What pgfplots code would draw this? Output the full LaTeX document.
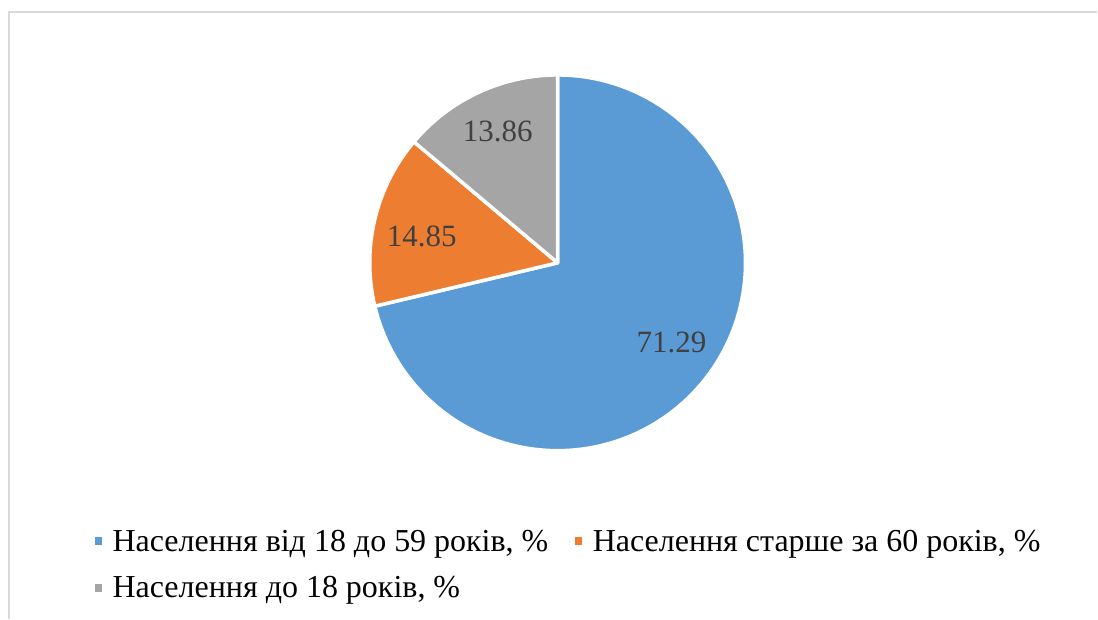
\documentclass[border=0pt]{standalone}
\usepackage{pgfplots}
\pgfplotsset{compat=1.18}
\usepackage{fontspec}
\setmainfont{Liberation Serif}
\definecolor{cblue}{HTML}{5B9BD5}
\definecolor{corange}{HTML}{ED7D31}
\definecolor{cgray}{HTML}{A5A5A5}
\definecolor{ctext}{HTML}{404040}
\definecolor{cframe}{HTML}{D9D9D9}
\def\vA{71.29}\def\vB{14.85}\def\vC{13.86}%
\def\cx{558}\def\cy{263}\def\rr{188}%
\begin{document}%
\begin{tikzpicture}
\pgfmathsetmacro\aS{90}
\pgfmathsetmacro\aA{\aS-3.6*\vA}
\pgfmathsetmacro\aB{\aA-3.6*\vB}
\pgfmathsetmacro\aC{\aB-3.6*\vC}
\begin{axis}[
  width=1098pt, height=619pt, scale only axis,
  xmin=0, xmax=1098, ymin=0, ymax=619, y dir=reverse,
  hide axis, clip=false,
  legend columns=2, legend cell align=left,
  legend style={at={(axis cs:91,528)}, anchor=north west, draw=none, fill=none,
    font=\fontsize{32}{38}\selectfont, text=black,
    /tikz/every odd column/.append style={column sep=5pt},
    /tikz/every even column/.append style={column sep=21pt},
    row sep=20pt, inner sep=0pt},
  legend image code/.code={\fill[#1] (0pt,-5.5pt) rectangle (11pt,5.5pt);},
  every axis plot/.append style={line join=round},
]
\path (axis cs:0,0) rectangle (axis cs:1098,619);
\draw[cframe, line width=1.5pt] (axis cs:9,619) -- (axis cs:9,12) -- (axis cs:1098,12);

\addplot[fill=cblue, draw=white, line width=3.5pt, domain=\aA:\aS, samples=150, variable=\t]
  ({\cx+\rr*cos(\t)}, {\cy-\rr*sin(\t)}) -- (axis cs:\cx,\cy) -- cycle;
\addlegendentry{Населення від 18 до 59 років, \%}
\addplot[fill=corange, draw=white, line width=3.5pt, domain=\aB:\aA, samples=50, variable=\t]
  ({\cx+\rr*cos(\t)}, {\cy-\rr*sin(\t)}) -- (axis cs:\cx,\cy) -- cycle;
\addlegendentry{Населення старше за 60 років, \%}
\addplot[fill=cgray, draw=white, line width=3.5pt, domain=\aC:\aB, samples=50, variable=\t]
  ({\cx+\rr*cos(\t)}, {\cy-\rr*sin(\t)}) -- (axis cs:\cx,\cy) -- cycle;
\addlegendentry{Населення до 18 років, \%}

\node[text=ctext, font=\fontsize{31}{36}\selectfont] at (axis cs:672,343) {\vA};
\node[text=ctext, font=\fontsize{31}{36}\selectfont] at (axis cs:422,237) {\vB};
\node[text=ctext, font=\fontsize{31}{36}\selectfont] at (axis cs:498,132) {\vC};
\end{axis}
\end{tikzpicture}%
\end{document}
